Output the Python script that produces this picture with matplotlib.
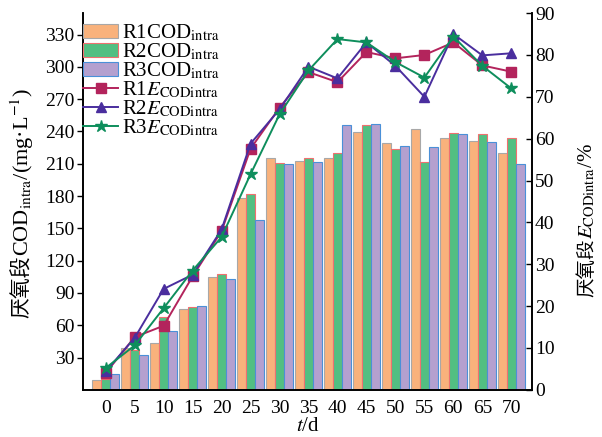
import matplotlib
matplotlib.use('Agg')
import matplotlib.pyplot as plt
import numpy as np

plt.rcParams['font.family'] = ['Liberation Serif', 'Noto Sans CJK SC']
plt.rcParams['mathtext.fontset'] = 'stix'

days = [0, 5, 10, 15, 20, 25, 30, 35, 40, 45, 50, 55, 60, 65, 70]

# COD intra (mg/L), left axis
r1_cod = [9.3, 39.3, 43.3, 75.5, 104.6, 178.6, 215.1, 212.6, 215.7, 239.9, 229.0, 242.6, 234.3, 230.9, 220.4]
r2_cod = [10.2, 36.8, 67.5, 77.4, 107.7, 181.7, 210.5, 215.7, 219.7, 246.0, 223.8, 211.4, 238.3, 237.4, 233.7]
r3_cod = [14.5, 32.2, 54.5, 78.0, 103.4, 158.1, 209.8, 212.0, 246.0, 246.6, 226.5, 225.3, 237.4, 230.0, 209.8]

# removal efficiency (%), right axis
r1_e = [4.0, 12.6, 15.3, 27.1, 37.9, 57.6, 67.4, 75.9, 73.5, 80.7, 79.2, 80.0, 83.0, 77.5, 76.0]
r2_e = [4.4, 12.4, 24.1, 27.5, 38.3, 58.8, 67.0, 77.2, 74.4, 83.0, 77.4, 70.0, 85.0, 79.9, 80.4]
r3_e = [5.2, 10.6, 19.5, 28.5, 36.5, 51.5, 65.8, 76.3, 83.8, 83.0, 78.3, 74.6, 84.4, 77.4, 72.0]

x = np.array(days, dtype=float)
w = 1.55

fig = plt.figure(figsize=(6.02, 4.37), dpi=100)
ax = fig.add_axes([0.138, 0.108, 0.746, 0.862])
ax2 = ax.twinx()

b1 = ax.bar(x - w, r1_cod, w, color='#F9B27C', edgecolor='#A8A8A8', linewidth=0.8)
b2 = ax.bar(x, r2_cod, w, color='#52BF82', edgecolor='#F07070', linewidth=0.8)
b3 = ax.bar(x + w, r3_cod, w, color='#B4A0CF', edgecolor='#4A90D8', linewidth=0.8)

l1, = ax2.plot(x, r1_e, '-s', color='#B3245C', ms=6.5, lw=1.4)
l2, = ax2.plot(x, r2_e, '-^', color='#4A2E9E', ms=7.5, lw=1.4)
l3, = ax2.plot(x, r3_e, '-*', color='#0E8E5C', ms=9, lw=1.4)

ax.set_xlim(-3.9, 73.6)
ax.set_ylim(0, 350)
ax2.set_ylim(0, 90)
ax.set_xticks(days)
ax.set_yticks(range(30, 331, 30))
ax2.set_yticks(range(0, 91, 10))

for a in (ax, ax2):
    a.spines['top'].set_visible(False)
    for s in a.spines.values():
        s.set_linewidth(1.2)
ax.tick_params(axis='y', direction='out', length=4, width=1, labelsize=14, pad=2)
ax.tick_params(axis='x', length=0, labelsize=14, pad=7)
ax2.tick_params(axis='y', direction='in', length=4, width=1, labelsize=14, pad=2)

ax.set_xlabel('$t$/d', fontsize=15, labelpad=0.5)

# left y label: Chinese part + math part chained
t1 = fig.text(0.037, 0.272, '厌氧段', rotation=90, fontsize=15,
              family=['Noto Sans CJK SC'], ha='center', va='bottom')
ax.annotate('COD$_{\\mathrm{intra}}$/(mg·L$^{-1}$)', xy=(0.5, 1.0), xycoords=t1,
            rotation=90, fontsize=16, ha='center', va='bottom',
            annotation_clip=False)

# right y label
t2 = fig.text(0.975, 0.32, '厌氧段', rotation=90, fontsize=14,
              family=['Noto Sans CJK SC'], ha='center', va='bottom')
ax2.annotate('$E_{\\mathrm{CODintra}}$/%', xy=(0.5, 1.0), xycoords=t2,
             rotation=90, fontsize=15, ha='center', va='bottom',
             annotation_clip=False)

handles = [b1, b2, b3, l1, l2, l3]
labels = ['R1COD$_{\\mathrm{intra}}$', 'R2COD$_{\\mathrm{intra}}$', 'R3COD$_{\\mathrm{intra}}$',
          'R1$E_{\\mathrm{CODintra}}$', 'R2$E_{\\mathrm{CODintra}}$', 'R3$E_{\\mathrm{CODintra}}$']
leg = ax2.legend(handles, labels, loc='upper left', bbox_to_anchor=(-0.004, 0.98),
                 frameon=False, fontsize=15, labelspacing=-0.08, handlelength=1.65,
                 handleheight=0.7, handletextpad=0.22, borderaxespad=0.0, borderpad=0.1)

fig.savefig('out.png', dpi=100)
